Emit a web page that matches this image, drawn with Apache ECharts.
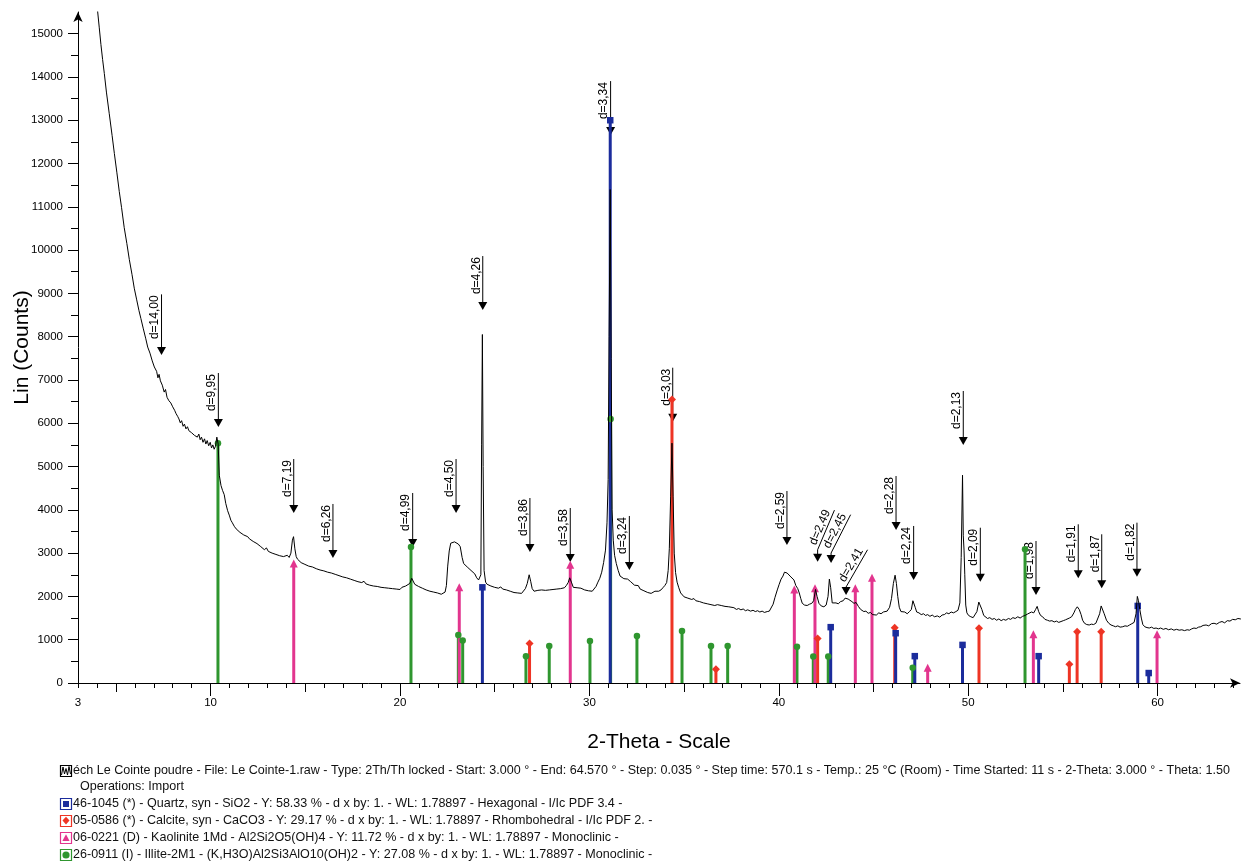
<!DOCTYPE html>
<html><head><meta charset="utf-8">
<script src="https://cdn.jsdelivr.net/npm/echarts@6/dist/echarts.min.js"></script>
<style>html,body{margin:0;padding:0;background:#fff}#chart{width:1246px;height:863px}</style>
</head><body><div id="chart"></div>
<script>
// ---------------- DATA ----------------
const scan = [
[3.00,24000],[3.30,21000],[3.60,18600],[3.85,16700],[4.04,15500],[4.12,15150],[4.21,14750],[4.30,14400],[4.39,14080],[4.50,13650],
[4.65,13150],[4.80,12650],[4.92,12230],[5.05,11800],[5.18,11350],[5.30,10980],[5.44,10520],[5.58,10150],[5.71,9780],[5.85,9440],
[5.97,9120],[6.10,8850],[6.22,8600],[6.32,8420],[6.45,8180],[6.58,7950],[6.68,7760],[6.80,7620],[6.92,7440],[7.03,7300],
[7.15,7200],[7.22,7050],[7.28,7130],[7.35,6980],[7.45,6880],[7.55,6720],[7.62,6780],[7.70,6600],[7.80,6520],[7.90,6470],
[8.00,6380],[8.10,6300],[8.18,6220],[8.26,6160],[8.33,6100],[8.40,6010],[8.47,6060],[8.55,5930],[8.62,5980],[8.70,5870],
[8.78,5920],[8.85,5830],[8.93,5870],[9.00,5780],[9.08,5820],[9.15,5720],[9.22,5760],[9.30,5680],[9.38,5750],[9.45,5620],
[9.52,5680],[9.60,5560],[9.68,5640],[9.75,5520],[9.82,5600],[9.90,5480],[9.98,5560],[10.05,5430],[10.12,5500],[10.19,5400],
[10.26,5470],[10.33,5680],[10.40,5520],[10.46,4800],[10.55,4560],[10.63,4450],[10.72,4350],[10.80,4150],[10.90,3980],[11.00,3860],
[11.07,3760],[11.15,3700],[11.25,3620],[11.35,3560],[11.45,3600],[11.55,3480],[11.65,3500],[11.75,3420],[11.85,3450],[11.96,3380],
[12.05,3330],[12.15,3370],[12.25,3270],[12.35,3300],[12.45,3220],[12.55,3250],[12.65,3150],[12.75,3180],[12.84,3080],[12.95,3120],
[13.05,3040],[13.15,3080],[13.25,3000],[13.35,3040],[13.45,2970],[13.55,3010],[13.65,2940],[13.75,2970],[13.85,2920],[13.95,2880],
[14.05,2950],[14.15,2900],[14.24,3000],[14.32,3300],[14.38,3380],[14.45,3100],[14.52,2920],[14.59,2860],[14.68,2830],[14.78,2780],
[14.88,2800],[14.98,2740],[15.08,2760],[15.18,2700],[15.28,2730],[15.38,2680],[15.47,2690],[15.58,2640],[15.68,2670],[15.78,2610],
[15.88,2640],[15.98,2590],[16.08,2620],[16.18,2560],[16.28,2600],[16.38,2540],[16.48,2570],[16.58,2510],[16.68,2530],[16.78,2480],
[16.88,2500],[16.98,2450],[17.08,2480],[17.18,2430],[17.28,2450],[17.38,2400],[17.48,2420],[17.58,2370],[17.68,2390],[17.78,2340],
[17.88,2360],[17.98,2320],[18.10,2350],[18.20,2290],[18.30,2310],[18.40,2260],[18.50,2290],[18.60,2240],[18.70,2270],[18.80,2230],
[18.90,2250],[19.00,2210],[19.10,2240],[19.20,2200],[19.30,2230],[19.40,2190],[19.50,2220],[19.60,2180],[19.70,2210],[19.80,2170],
[19.90,2200],[20.00,2160],[20.10,2210],[20.20,2180],[20.30,2240],[20.40,2200],[20.52,2300],[20.62,2420],[20.70,2380],[20.78,2280],
[20.88,2320],[20.98,2230],[21.08,2260],[21.18,2190],[21.28,2220],[21.38,2150],[21.48,2180],[21.58,2120],[21.68,2160],[21.78,2100],
[21.88,2130],[21.98,2080],[22.08,2110],[22.18,2050],[22.28,2070],[22.38,2100],[22.45,2250],[22.52,2700],[22.60,3050],[22.68,3230],
[22.78,3200],[22.88,3260],[22.98,3240],[23.08,3210],[23.18,3150],[23.28,2900],[23.36,2760],[23.45,2720],[23.55,2680],[23.65,2650],
[23.75,2600],[23.85,2560],[23.95,2520],[24.05,2430],[24.15,2380],[24.27,2500],[24.31,5500],[24.35,8050],[24.39,5000],[24.44,2600],
[24.52,2330],[24.60,2280],[24.70,2300],[24.80,2240],[24.90,2260],[25.00,2210],[25.10,2240],[25.20,2190],[25.32,2220],[25.42,2170],
[25.52,2200],[25.62,2150],[25.72,2180],[25.82,2120],[25.92,2150],[26.02,2090],[26.12,2120],[26.22,2080],[26.32,2110],[26.42,2070],
[26.52,2100],[26.62,2180],[26.72,2300],[26.82,2500],[26.90,2350],[26.98,2180],[27.08,2120],[27.18,2160],[27.28,2140],[27.38,2180],
[27.48,2150],[27.58,2190],[27.68,2140],[27.78,2180],[27.88,2150],[27.98,2190],[28.08,2160],[28.18,2200],[28.28,2170],[28.38,2210],
[28.48,2180],[28.58,2220],[28.68,2200],[28.78,2250],[28.88,2320],[28.96,2430],[29.05,2330],[29.15,2210],[29.25,2250],[29.35,2200],
[29.45,2240],[29.55,2190],[29.65,2230],[29.75,2150],[29.85,2190],[29.95,2130],[30.05,2170],[30.15,2120],[30.25,2160],[30.35,2230],
[30.45,2330],[30.55,2420],[30.65,2560],[30.75,2780],[30.85,3070],[30.93,3700],[30.99,4700],[31.04,8000],[31.10,11400],[31.15,7500],
[31.20,4000],[31.26,3300],[31.33,2950],[31.42,2760],[31.52,2600],[31.62,2470],[31.72,2430],[31.82,2410],[31.92,2370],[32.02,2400],
[32.10,2420],[32.18,2340],[32.28,2300],[32.38,2260],[32.48,2230],[32.58,2250],[32.68,2170],[32.78,2200],[32.88,2130],[32.98,2150],
[33.08,2090],[33.18,2110],[33.26,2070],[33.36,2110],[33.46,2120],[33.56,2160],[33.66,2120],[33.78,2150],[33.88,2200],[33.98,2250],
[34.08,2320],[34.16,2600],[34.22,3100],[34.29,4300],[34.36,5540],[34.42,4300],[34.48,3000],[34.55,2550],[34.63,2330],[34.72,2200],
[34.82,2080],[34.92,2060],[35.00,1990],[35.10,2020],[35.20,1960],[35.30,1980],[35.40,1930],[35.52,1950],[35.62,1900],[35.72,1930],
[35.82,1880],[35.92,1900],[36.02,1850],[36.12,1880],[36.22,1830],[36.32,1850],[36.42,1810],[36.52,1830],[36.62,1790],[36.76,1810],
[36.86,1770],[36.96,1790],[37.06,1750],[37.16,1770],[37.26,1730],[37.36,1760],[37.46,1720],[37.63,1740],[37.76,1700],[37.88,1720],
[38.00,1690],[38.12,1710],[38.24,1670],[38.36,1690],[38.51,1660],[38.64,1680],[38.76,1650],[38.88,1670],[39.00,1640],[39.12,1660],
[39.24,1630],[39.39,1650],[39.50,1660],[39.60,1700],[39.70,1820],[39.80,1980],[39.92,2150],[40.02,2280],[40.12,2400],[40.22,2470],
[40.30,2560],[40.36,2590],[40.44,2540],[40.54,2520],[40.64,2450],[40.72,2420],[40.80,2380],[40.90,2250],[41.00,2180],[41.08,2080],
[41.16,1950],[41.24,1840],[41.36,1800],[41.50,1790],[41.62,1820],[41.74,1840],[41.84,1900],[41.94,2160],[42.02,2000],[42.12,1840],
[42.24,1780],[42.38,1760],[42.50,1800],[42.60,2000],[42.67,2400],[42.74,2200],[42.82,1850],[42.92,1820],[43.02,1850],[43.14,1830],
[43.26,1880],[43.40,1900],[43.50,1960],[43.57,1990],[43.66,1940],[43.76,1950],[43.86,1880],[43.97,1840],[44.08,1860],[44.20,1770],
[44.32,1700],[44.40,1720],[44.49,1650],[44.60,1660],[44.72,1610],[44.84,1630],[44.95,1580],[45.05,1600],[45.15,1570],[45.28,1620],
[45.40,1600],[45.52,1640],[45.62,1630],[45.72,1660],[45.85,1750],[45.95,1950],[46.05,2300],[46.14,2490],[46.21,2300],[46.28,2000],
[46.36,1750],[46.45,1650],[46.55,1620],[46.65,1640],[46.78,1600],[46.90,1650],[47.00,1700],[47.08,1900],[47.14,1920],[47.20,1750],
[47.28,1640],[47.40,1620],[47.52,1580],[47.64,1600],[47.75,1560],[47.86,1580],[47.98,1540],[48.10,1570],[48.22,1530],[48.37,1550],
[48.50,1520],[48.62,1570],[48.74,1580],[48.86,1620],[48.98,1600],[49.10,1640],[49.22,1620],[49.35,1650],[49.46,1680],[49.56,1850],
[49.63,2900],[49.70,4800],[49.74,3400],[49.78,3070],[49.82,2500],[49.87,1800],[49.93,1620],[50.02,1560],[50.14,1530],[50.26,1510],
[50.36,1520],[50.46,1650],[50.56,1870],[50.63,1900],[50.72,1700],[50.82,1560],[50.92,1520],[51.02,1490],[51.14,1510],[51.26,1470],
[51.38,1490],[51.50,1450],[51.62,1480],[51.74,1440],[51.86,1470],[51.99,1450],[52.12,1490],[52.24,1470],[52.36,1510],[52.48,1490],
[52.62,1530],[52.74,1500],[52.87,1540],[53.00,1560],[53.12,1590],[53.22,1610],[53.34,1640],[53.46,1620],[53.56,1700],[53.64,1770],
[53.72,1650],[53.82,1560],[53.93,1530],[54.05,1470],[54.18,1450],[54.30,1430],[54.42,1440],[54.54,1410],[54.66,1430],[54.78,1400],
[54.90,1420],[55.02,1440],[55.14,1460],[55.24,1480],[55.34,1500],[55.46,1530],[55.58,1620],[55.66,1700],[55.76,1760],[55.86,1700],
[55.96,1580],[56.04,1450],[56.14,1380],[56.26,1350],[56.39,1340],[56.50,1360],[56.62,1350],[56.74,1380],[56.84,1420],[56.94,1600],
[57.02,1780],[57.10,1760],[57.18,1600],[57.30,1450],[57.42,1380],[57.54,1340],[57.66,1320],[57.78,1300],[57.90,1320],[58.02,1290],
[58.16,1300],[58.28,1320],[58.40,1310],[58.52,1340],[58.64,1370],[58.76,1400],[58.86,1600],[58.93,2000],[58.99,1900],[59.06,1700],
[59.14,1500],[59.22,1350],[59.32,1300],[59.44,1280],[59.56,1270],[59.68,1290],[59.80,1260],[59.92,1270],[60.04,1250],[60.16,1270],
[60.30,1240],[60.44,1260],[60.58,1230],[60.72,1250],[60.86,1220],[61.00,1240],[61.14,1220],[61.28,1230],[61.42,1210],[61.56,1230],
[61.68,1220],[61.80,1250],[61.92,1270],[62.04,1260],[62.16,1290],[62.28,1300],[62.40,1330],[62.56,1340],[62.70,1320],[62.84,1370],
[62.98,1380],[63.12,1360],[63.26,1400],[63.40,1420],[63.54,1390],[63.68,1440],[63.82,1430],[63.96,1470],[64.10,1460],[64.24,1490],
[64.38,1480],[64.50,1500]
];

const quartzTheta  = [24.35, 31.10, 42.74, 46.17, 47.18, 49.70, 53.72, 58.95, 59.53];
const quartzCounts = [2210, 13000, 1290, 1150, 620, 880, 620, 1780, 230];
const calciteTheta  = [26.84, 34.36, 36.68, 42.05, 46.12, 50.57, 55.34, 55.75, 57.02];
const calciteCounts = [915, 6550, 316, 1030, 1277, 1263, 432, 1185, 1185];
const kaoliniteTheta  = [14.39, 23.13, 28.99, 40.82, 41.91, 44.04, 44.92, 47.86, 53.44, 59.97];
const kaoliniteCounts = [2760, 2210, 2730, 2160, 2190, 2190, 2430, 355, 1125, 1125];
const illiteTheta  = [10.39, 20.58, 23.08, 23.31, 26.65, 27.88, 30.03, 31.12, 32.51, 34.89, 36.42, 37.30, 40.96, 41.82, 42.61, 47.07, 53.00];
const illiteCounts = [5540, 3140, 1110, 980, 620, 855, 970, 6100, 1085, 1200, 855, 855, 840, 610, 610, 355, 3090];

const dLabels = ['d=14,00','d=9,95','d=7,19','d=6,26','d=4,99','d=4,50','d=4,26','d=3,86','d=3,58','d=3,34','d=3,24','d=3,03',
                 'd=2,59','d=2,49','d=2,45','d=2,41','d=2,28','d=2,24','d=2,13','d=2,09','d=1,98','d=1,91','d=1,87','d=1,82'];
const dTheta  = [7.41, 10.41, 14.39, 16.46, 20.67, 22.96, 24.37, 26.86, 28.99, 31.12, 32.11, 34.40,
                 40.43, 42.05, 42.76, 43.55, 46.19, 47.12, 49.74, 50.64, 53.58, 55.81, 57.05, 58.91];
const dTip    = [7575, 5912, 3926, 2887, 3141, 3926, 8614, 3025, 2794, 12656, 2610, 6035,
                 3187, 2801, 2771, 2032, 3533, 2379, 5497, 2339, 2032, 2418, 2187, 2455];
const dAngle  = [90,90,90,90,90,90,90,90,90,90,90,90, 90,67,63,60, 90,90,90,90,90,90,90,90];

const xTickLabels = [3, 10, 20, 30, 40, 50, 60];
const yTickLabels = [0,1000,2000,3000,4000,5000,6000,7000,8000,9000,10000,11000,12000,13000,14000,15000];

const legendRows = [
  'éch Le Cointe poudre - File: Le Cointe-1.raw - Type: 2Th/Th locked - Start: 3.000 ° - End: 64.570 ° - Step: 0.035 ° - Step time: 570.1 s - Temp.: 25 °C (Room) - Time Started: 11 s - 2-Theta: 3.000 ° - Theta: 1.50',
  'Operations: Import',
  '46-1045 (*) - Quartz, syn - SiO2 - Y: 58.33 % - d x by: 1. - WL: 1.78897 - Hexagonal - I/Ic PDF 3.4 -',
  '05-0586 (*) - Calcite, syn - CaCO3 - Y: 29.17 % - d x by: 1. - WL: 1.78897 - Rhombohedral - I/Ic PDF 2. -',
  '06-0221 (D) - Kaolinite 1Md - Al2Si2O5(OH)4 - Y: 11.72 % - d x by: 1. - WL: 1.78897 - Monoclinic -',
  '26-0911 (I) - Illite-2M1 - (K,H3O)Al2Si3AlO10(OH)2 - Y: 27.08 % - d x by: 1. - WL: 1.78897 - Monoclinic -'
];

// ---------------- STYLE ----------------
const FONT = '"Liberation Sans", Arial, Helvetica, sans-serif';
const C_Q = '#1b2c9c', C_C = '#ee3424', C_K = '#e2358e', C_I = '#2f962f';

const mctx = document.createElement('canvas').getContext('2d');
function textW(s, px) { mctx.font = px + 'px ' + FONT; return mctx.measureText(s).width; }

const X_MIN = 3, X_MAX = 64.35;
const minorX = [], midX = [], majorX = [];
for (let v = 3; v <= 64; v++) { if (v % 10 === 0) majorX.push(v); else if (v % 5 === 0) midX.push(v); else minorX.push(v); }
const minorY = [];
for (let v = 500; v < 15500; v += 1000) minorY.push(v);

function stickSeries(theta, counts, color, symbol, size, name) {
  const data = theta.map((t, i) => [t, counts[i]]);
  return [{
    type: 'custom', name: name, z: 3, data: data,
    renderItem: function (params, api) {
      const p0 = api.coord([api.value(0), 0]);
      const p1 = api.coord([api.value(0), api.value(1)]);
      return { type: 'line', shape: { x1: p0[0], y1: p0[1], x2: p1[0], y2: p1[1] },
               style: { stroke: color, lineWidth: 3 } };
    }
  }, {
    type: 'scatter', z: 4, data: data, symbol: symbol, symbolSize: size,
    itemStyle: { color: color, opacity: 1 }, silent: true
  }];
}

const annData = dTheta.map((t, i) => [t, dTip[i], i]);
function annRender(params, api) {
  const i = api.value(2);
  const tip = api.coord([api.value(0), api.value(1)]);
  const label = dLabels[i];
  const fs = 12;
  const tw = textW(label, fs);
  const head = 8, hw = 4.5;
  const ch = [];
  ch.push({ type: 'polygon', shape: { points: [[tip[0] - hw, tip[1] - head], [tip[0] + hw, tip[1] - head], [tip[0], tip[1]]] },
            style: { fill: '#000' } });
  const ang = dAngle[i];
  if (ang === 90) {
    const top = tip[1] - head - 8 - tw - 1;
    ch.push({ type: 'line', shape: { x1: tip[0], y1: tip[1] - head + 1, x2: tip[0], y2: top }, style: { stroke: '#000', lineWidth: 1 } });
    ch.push({ type: 'text', x: tip[0] - 0.5, y: tip[1] - head - 8, rotation: Math.PI / 2,
              style: { text: label, font: fs + 'px ' + FONT, fill: '#000', align: 'left', verticalAlign: 'bottom' } });
  } else {
    const a = ang * Math.PI / 180;
    const stem = ang > 65 ? 4 : (ang > 61 ? 2 : 0);
    const sx = tip[0], sy = tip[1] - head - stem;
    const L = tw + 6;
    const ex = sx + L * Math.cos(a), ey = sy - L * Math.sin(a);
    ch.push({ type: 'line', shape: { x1: tip[0], y1: tip[1] - head + 1, x2: sx, y2: sy }, style: { stroke: '#000', lineWidth: 1 } });
    ch.push({ type: 'line', shape: { x1: sx, y1: sy, x2: ex, y2: ey }, style: { stroke: '#000', lineWidth: 1 } });
    ch.push({ type: 'text', x: sx + 3 * Math.cos(a) - 0.5 * Math.sin(a), y: sy - 3 * Math.sin(a) - 0.5 * Math.cos(a), rotation: a,
              style: { text: label, font: fs + 'px ' + FONT, fill: '#000', align: 'left', verticalAlign: 'bottom' } });
  }
  return { type: 'group', children: ch };
}

// legend (bottom text block)
const legFs = 12 * 1158 / textW(legendRows[0], 12);
const rowY = [771, 787, 804, 821, 838, 855];
const graphics = [];
function iconBox(y, color, shape) {
  const g = { type: 'group', x: 60, y: y - 6, children: [
    { type: 'rect', shape: { x: 0.5, y: 0.5, width: 11, height: 11 }, style: { fill: '#fff', stroke: color, lineWidth: 1.2 } }
  ] };
  if (shape === 'rect') g.children.push({ type: 'rect', shape: { x: 3, y: 3, width: 6, height: 6 }, style: { fill: color } });
  if (shape === 'diamond') g.children.push({ type: 'polygon', shape: { points: [[6, 1.8], [9.5, 5.5], [6, 9.6], [2.5, 5.5]] }, style: { fill: color } });
  if (shape === 'triangle') g.children.push({ type: 'polygon', shape: { points: [[6, 2.2], [9.6, 9], [2.4, 9]] }, style: { fill: color } });
  if (shape === 'circle') g.children.push({ type: 'circle', shape: { cx: 6, cy: 6, r: 3.6 }, style: { fill: color } });
  if (shape === 'scan') g.children.push({ type: 'polyline', shape: { points: [[1.5, 10], [3, 2], [4.5, 9], [6, 3.5], [7.5, 10], [9, 1.5], [10.5, 9]] }, style: { stroke: color, fill: 'none', lineWidth: 1 } });
  return g;
}
const icons = [['#000', 'scan'], null, [C_Q, 'rect'], [C_C, 'diamond'], [C_K, 'triangle'], [C_I, 'circle']];
legendRows.forEach((txt, i) => {
  if (icons[i]) graphics.push(iconBox(rowY[i], icons[i][0], icons[i][1]));
  graphics.push({ type: 'text', x: i === 1 ? 80 : 73, y: rowY[i],
    style: { text: txt, font: legFs.toFixed(2) + 'px ' + FONT, fill: '#111', align: 'left', verticalAlign: 'middle' } });
});

const axisBlack = { color: '#000', width: 1 };
const plainLabel = v => String(v);
const option = {
  animation: false,
  backgroundColor: '#ffffff',
  grid: { left: 78, right: 6, top: 12, bottom: 180, containLabel: false, outerBoundsMode: 'none' },
  xAxis: [
    { type: 'value', min: X_MIN, max: X_MAX, position: 'bottom',
      name: '2-Theta - Scale', nameLocation: 'middle', nameGap: 49, nameMoveOverlap: false,
      nameTextStyle: { fontSize: 21, color: '#000', fontFamily: FONT },
      axisLine: { show: true, onZero: false, symbol: ['none', 'arrow'], symbolSize: [7, 10], lineStyle: axisBlack },
      axisTick: { show: true, customValues: minorX, length: 5, lineStyle: axisBlack },
      axisLabel: { show: true, customValues: xTickLabels, formatter: plainLabel, color: '#000', fontSize: 11.5, fontFamily: FONT, margin: 14 },
      splitLine: { show: false } },
    { type: 'value', min: X_MIN, max: X_MAX, position: 'bottom', offset: 0,
      axisLine: { show: false }, axisLabel: { show: false }, splitLine: { show: false },
      axisTick: { show: true, customValues: midX, length: 9, lineStyle: axisBlack } },
    { type: 'value', min: X_MIN, max: X_MAX, position: 'bottom', offset: 0,
      axisLine: { show: false }, axisLabel: { show: false }, splitLine: { show: false },
      axisTick: { show: true, customValues: majorX, length: 13, lineStyle: axisBlack } }
  ],
  yAxis: [
    { type: 'value', min: 0, max: 15500, position: 'left',
      name: 'Lin (Counts)', nameLocation: 'middle', nameGap: 45, nameRotate: 90, nameMoveOverlap: false,
      nameTextStyle: { fontSize: 21, color: '#000', fontFamily: FONT },
      axisLine: { show: true, onZero: false, symbol: ['none', 'arrow'], symbolSize: [7, 10], lineStyle: axisBlack },
      axisTick: { show: true, customValues: yTickLabels, length: 10, lineStyle: axisBlack },
      axisLabel: { show: true, customValues: yTickLabels, formatter: plainLabel, color: '#000', fontSize: 11.5, fontFamily: FONT, margin: 15 },
      splitLine: { show: false } },
    { type: 'value', min: 0, max: 15500, position: 'left', offset: 0,
      axisLine: { show: false }, axisLabel: { show: false }, splitLine: { show: false },
      axisTick: { show: true, customValues: minorY, length: 7, lineStyle: axisBlack } }
  ],
  graphic: graphics,
  series: [
    { type: 'custom', name: 'annotations', z: 2, data: annData, renderItem: annRender },
    ...stickSeries(illiteTheta, illiteCounts, C_I, 'circle', 6.5, 'Illite'),
    ...stickSeries(kaoliniteTheta, kaoliniteCounts, C_K, 'triangle', 8, 'Kaolinite'),
    ...stickSeries(calciteTheta, calciteCounts, C_C, 'diamond', 8, 'Calcite'),
    ...stickSeries(quartzTheta, quartzCounts, C_Q, 'rect', 6.5, 'Quartz'),
    { type: 'line', name: 'scan', z: 6, data: scan, showSymbol: false, symbol: 'none', clip: true,
      lineStyle: { color: '#000', width: 1 }, sampling: null, silent: true }
  ]
};
const chart = echarts.init(document.getElementById('chart'), null, { renderer: 'canvas' });
chart.setOption(option);
</script>
</body></html>
